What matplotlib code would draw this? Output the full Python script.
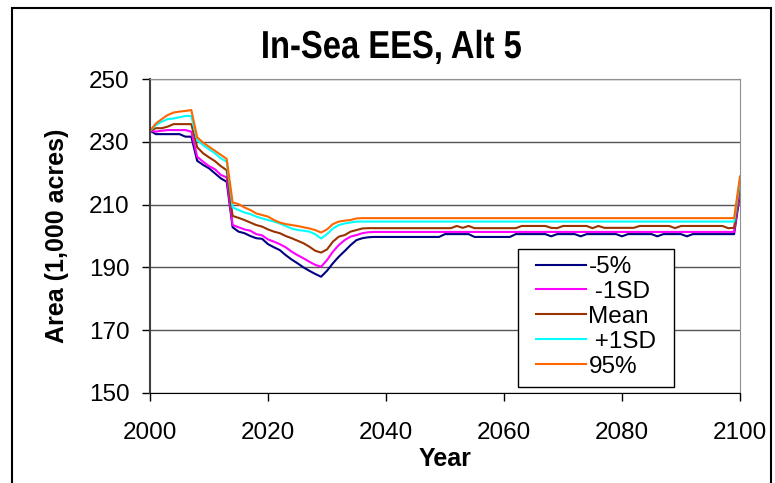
import numpy as np
import matplotlib
matplotlib.use('Agg')
import matplotlib.pyplot as plt
from matplotlib.patches import Rectangle, PathPatch
from matplotlib.textpath import TextPath
from matplotlib.font_manager import FontProperties
from matplotlib.transforms import Affine2D

plt.rcParams['font.family'] = ['Liberation Sans', 'DejaVu Sans']

years = np.arange(2000, 2101)

# annual in-sea EES area, 1,000 acres
pct5 = [
    233.6, 232.5, 232.5, 232.5, 232.5, 232.5, 231.7, 231.7, 224.0, 222.7,
    221.6, 220.0, 218.4, 217.3, 202.8, 201.4, 200.9, 200.0, 199.3, 199.1,
    197.4, 196.4, 195.5, 193.9, 192.5, 191.3, 190.0, 188.9, 187.9, 187.0,
    188.9, 191.3, 193.4, 195.2, 197.1, 198.7, 199.3, 199.6, 199.7, 199.7,
    199.7, 199.7, 199.7, 199.7, 199.7, 199.7, 199.7, 199.7, 199.7, 199.7,
    200.6, 200.6, 200.6, 200.6, 200.6, 199.7, 199.7, 199.7, 199.7, 199.7,
    199.7, 199.7, 200.6, 200.6, 200.6, 200.6, 200.6, 200.6, 199.9, 200.6,
    200.6, 200.6, 200.6, 199.9, 200.6, 200.6, 200.6, 200.6, 200.6, 200.6,
    199.9, 200.6, 200.6, 200.6, 200.6, 200.6, 199.9, 200.6, 200.6, 200.6,
    200.6, 199.9, 200.6, 200.6, 200.6, 200.6, 200.6, 200.6, 200.6, 200.6,
    213.5,
]
minus_sd = [
    233.6, 233.3, 233.6, 233.8, 233.8, 233.8, 233.8, 233.3, 225.3, 223.7,
    222.3, 221.3, 219.5, 218.7, 203.5, 202.8, 202.1, 201.7, 200.6, 200.2,
    198.9, 198.2, 197.4, 196.4, 195.0, 193.9, 192.9, 191.8, 190.8, 190.2,
    192.3, 195.0, 197.1, 198.7, 199.8, 200.3, 200.9, 201.2, 201.3, 201.3,
    201.3, 201.3, 201.3, 201.3, 201.3, 201.3, 201.3, 201.3, 201.3, 201.3,
    201.3, 201.3, 201.3, 201.3, 201.3, 201.3, 201.3, 201.3, 201.3, 201.3,
    201.3, 201.3, 201.3, 201.3, 201.3, 201.3, 201.3, 201.3, 201.3, 201.3,
    201.3, 201.3, 201.3, 201.3, 201.3, 201.3, 201.3, 201.3, 201.3, 201.3,
    201.3, 201.3, 201.3, 201.3, 201.3, 201.3, 201.3, 201.3, 201.3, 201.3,
    201.3, 201.3, 201.3, 201.3, 201.3, 201.3, 201.3, 201.3, 201.3, 201.3,
    214.5,
]
mean = [
    233.6, 234.4, 234.4, 234.9, 235.7, 235.7, 235.7, 235.7, 228.3, 226.4,
    225.1, 223.9, 222.3, 221.0, 206.4, 205.8, 205.1, 204.3, 203.5, 203.0,
    202.1, 201.4, 200.9, 200.0, 199.3, 198.5, 197.7, 196.6, 195.3, 194.7,
    195.7, 198.2, 199.8, 200.3, 201.4, 201.9, 202.4, 202.5, 202.5, 202.5,
    202.5, 202.5, 202.5, 202.5, 202.5, 202.5, 202.5, 202.5, 202.5, 202.5,
    202.5, 202.5, 203.2, 202.6, 203.2, 202.5, 202.5, 202.5, 202.5, 202.5,
    202.5, 202.5, 202.5, 203.2, 203.2, 203.2, 203.2, 203.2, 202.6, 202.5,
    203.2, 203.2, 203.2, 203.2, 203.2, 202.5, 203.2, 202.6, 202.6, 202.6,
    202.6, 202.6, 202.6, 203.2, 203.2, 203.2, 203.2, 203.2, 203.2, 202.5,
    203.2, 203.2, 203.2, 203.2, 203.2, 203.2, 203.2, 203.2, 202.5, 202.6,
    216.0,
]
plus_sd = [
    233.6, 235.4, 236.5, 237.3, 237.5, 237.9, 238.3, 238.3, 230.6, 229.0,
    227.7, 226.4, 224.8, 223.7, 209.1, 208.3, 207.5, 207.0, 206.2, 205.6,
    205.1, 204.6, 204.0, 203.2, 202.4, 201.9, 201.7, 201.4, 200.6, 199.2,
    200.6, 202.4, 203.5, 204.0, 204.3, 204.6, 204.6, 204.6, 204.6, 204.6,
    204.6, 204.6, 204.6, 204.6, 204.6, 204.6, 204.6, 204.6, 204.6, 204.6,
    204.6, 204.6, 204.6, 204.6, 204.6, 204.6, 204.6, 204.6, 204.6, 204.6,
    204.6, 204.6, 204.6, 204.6, 204.6, 204.6, 204.6, 204.6, 204.6, 204.6,
    204.6, 204.6, 204.6, 204.6, 204.6, 204.6, 204.6, 204.6, 204.6, 204.6,
    204.6, 204.6, 204.6, 204.6, 204.6, 204.6, 204.6, 204.6, 204.6, 204.6,
    204.6, 204.6, 204.6, 204.6, 204.6, 204.6, 204.6, 204.6, 204.6, 204.6,
    217.8,
]
pct95 = [
    233.6, 235.9, 237.3, 238.6, 239.4, 239.7, 239.9, 240.2, 231.5, 229.8,
    228.5, 227.2, 225.9, 224.6, 210.7, 210.2, 209.1, 208.3, 207.2, 206.7,
    206.2, 205.1, 204.3, 203.8, 203.5, 203.2, 202.8, 202.4, 201.9, 201.1,
    202.1, 203.8, 204.6, 204.9, 205.1, 205.6, 205.7, 205.7, 205.7, 205.7,
    205.7, 205.7, 205.7, 205.7, 205.7, 205.7, 205.7, 205.7, 205.7, 205.7,
    205.7, 205.7, 205.7, 205.7, 205.7, 205.7, 205.7, 205.7, 205.7, 205.7,
    205.7, 205.7, 205.7, 205.7, 205.7, 205.7, 205.7, 205.7, 205.7, 205.7,
    205.7, 205.7, 205.7, 205.7, 205.7, 205.7, 205.7, 205.7, 205.7, 205.7,
    205.7, 205.7, 205.7, 205.7, 205.7, 205.7, 205.7, 205.7, 205.7, 205.7,
    205.7, 205.7, 205.7, 205.7, 205.7, 205.7, 205.7, 205.7, 205.7, 205.7,
    219.0,
]

series = [pct5, minus_sd, mean, plus_sd, pct95]
labels = ['-5%', ' -1SD', 'Mean', ' +1SD', '95%']
colors = ['#000080', '#FF00FF', '#993300', '#00FFFF', '#FF6600']
title = 'In-Sea EES, Alt 5'

W, H = 775, 483
fig = plt.figure(figsize=(W / 100, H / 100), dpi=100)
ax = fig.add_axes([150 / W, 1 - 392.7 / H, 590 / W, 313.4 / H])

for vals, label, color in zip(series, labels, colors):
    ax.plot(years, vals, color=color, lw=1.5, label=label)

ax.set_xlim(2000, 2100)
ax.set_ylim(150, 250)
ax.set_xticks(range(2000, 2101, 20))
ax.set_yticks(range(150, 251, 20))
ax.grid(axis='y', color='#555555', lw=1)
ax.set_axisbelow(True)
ax.tick_params(direction='out', length=5.8, width=1, labelsize=17.5, colors='black')
ax.tick_params(axis='x', pad=15)
ax.tick_params(axis='y', pad=9)

ax.spines['top'].set_color('#909090')
ax.spines['right'].set_color('#909090')
ax.spines['left'].set_color('#404040')
ax.spines['left'].set_linewidth(1.5)
ax.spines['bottom'].set_color('black')

# legend box drawn separately so the padding can differ per side
leg_box = Rectangle((518 / W, 1 - 387 / H), 156 / W, 138 / H,
                    transform=fig.transFigure, facecolor='white',
                    edgecolor='black', lw=1, zorder=4)
ax.add_artist(leg_box)
leg_box.set_clip_on(False)
leg = ax.legend(loc='upper left', bbox_to_anchor=(536 / W, 1 - 256 / H),
                bbox_transform=fig.transFigure, frameon=False, fontsize=17.5,
                labelspacing=0.12, handlelength=2.06, handletextpad=0.1,
                borderpad=0, borderaxespad=0)
leg.set_zorder(5)

# bold title, horizontally condensed
tp = TextPath((0, 0), title, size=1,
              prop=FontProperties(family='Liberation Sans', weight='bold'))
em, sx = 39.0, 0.84
ext = tp.get_extents()
x0 = 392 - (ext.x0 + ext.width / 2) * em * sx
tr = Affine2D().scale(em * sx / W, em / H).translate(x0 / W, 1 - 58 / H)
fig.patches.append(PathPatch(tp, transform=tr + fig.transFigure,
                             facecolor='black', edgecolor='none'))

fig.text(57 / W, 1 - 236 / H, 'Area (1,000 acres)', rotation=90,
         ha='center', va='center', fontsize=18, fontweight='bold')
fig.text(445 / W, 1 - 459 / H, 'Year', ha='center', va='center',
         fontsize=18, fontweight='bold')

# outer chart frame
fig.patches.append(Rectangle((12 / W, -0.1), 759 / W, 1.1 - 8 / H,
                             transform=fig.transFigure, fill=False,
                             ec='black', lw=1.5))

fig.savefig('out.png', dpi=100)
